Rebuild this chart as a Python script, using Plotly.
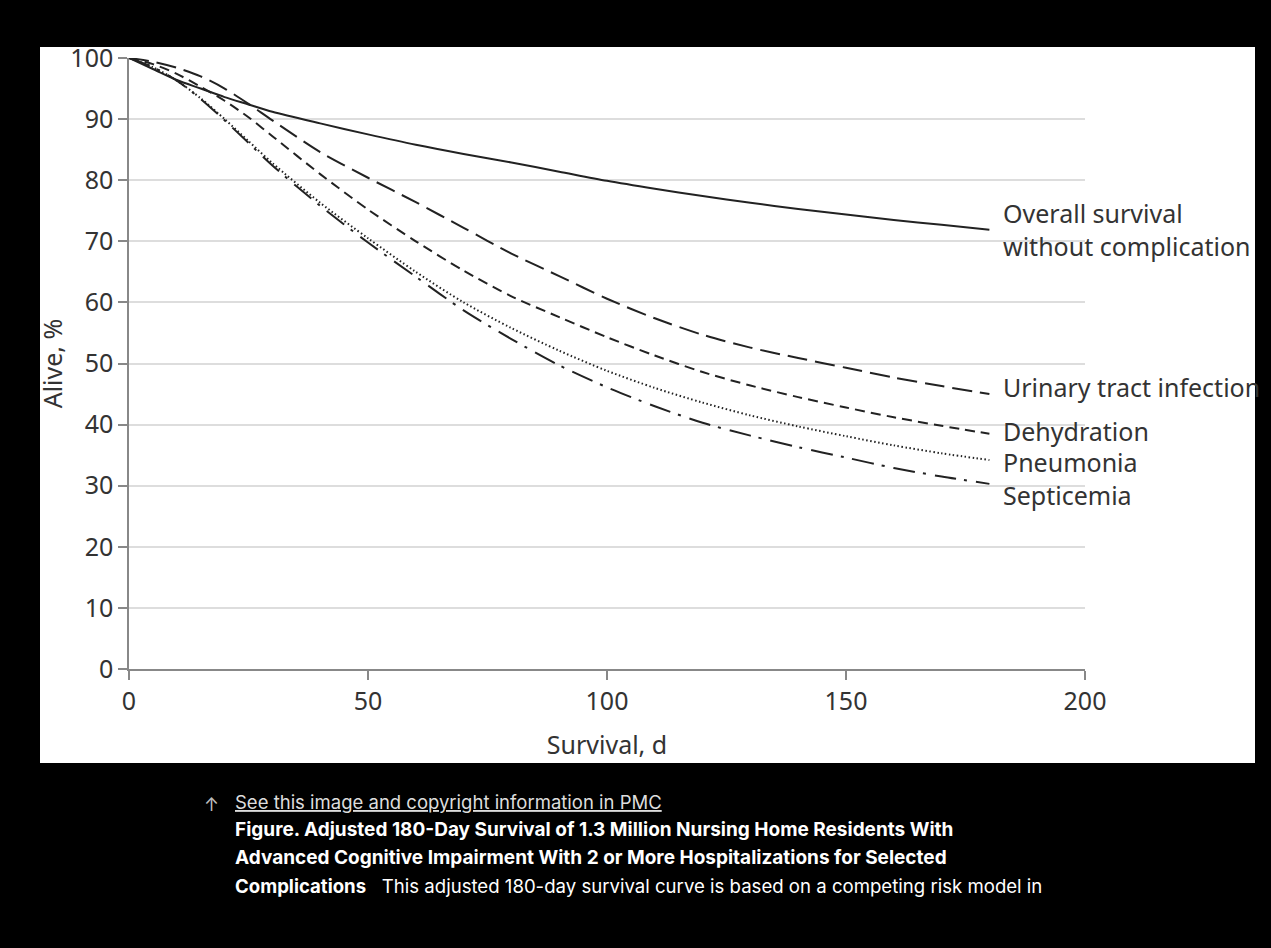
import plotly.graph_objects as go

# ---- data ----
days = [0, 5, 10, 15, 20, 25, 30, 40, 50, 60, 70, 80, 90, 100, 110, 120, 130, 140, 150, 160, 170, 180]

overall = [100, 98.2, 96.4, 95.0, 93.6, 92.4, 91.2, 89.3, 87.5, 85.8, 84.3, 82.9, 81.4, 79.9,
           78.6, 77.4, 76.3, 75.3, 74.4, 73.5, 72.7, 71.9]
uti = [100, 99.4, 98.4, 97.0, 95.0, 92.5, 89.8, 84.6, 80.4, 76.4, 72.2, 68.0, 64.3, 60.6,
       57.4, 54.7, 52.6, 50.9, 49.3, 47.7, 46.3, 45.0]
dehydration = [100, 99.0, 97.4, 95.3, 93.0, 90.3, 87.2, 81.0, 75.2, 70.0, 65.2, 61.0, 57.6, 54.3,
               51.3, 48.6, 46.4, 44.5, 42.8, 41.2, 39.8, 38.5]
pneumonia = [100, 98.5, 96.3, 93.4, 90.0, 86.4, 82.8, 76.3, 70.5, 65.0, 60.0, 55.8, 52.1, 48.8,
             46.0, 43.6, 41.5, 39.7, 38.1, 36.6, 35.3, 34.2]
septicemia = [100, 98.5, 96.3, 93.3, 89.8, 86.1, 82.4, 75.8, 69.8, 64.2, 58.7, 54.0, 49.7, 46.1,
              43.0, 40.3, 38.2, 36.3, 34.6, 32.9, 31.5, 30.3]

series_names = ["Overall survival without complication", "Urinary tract infection",
                "Dehydration", "Pneumonia", "Septicemia"]
series_values = [overall, uti, dehydration, pneumonia, septicemia]
label_texts = ["Overall survival<br>without complication", "Urinary tract infection",
               "Dehydration", "Pneumonia", "Septicemia"]
label_y = [72.0, 46.2, 39.0, 33.8, 28.4]

x_ticks = [0, 50, 100, 150, 200]
y_ticks = [0, 10, 20, 30, 40, 50, 60, 70, 80, 90, 100]

caption_link = "See this image and copyright information in PMC"
caption_lines = [
    "<b>Figure. Adjusted 180-Day Survival of 1.3 Million Nursing Home Residents With</b>",
    "<b>Advanced Cognitive Impairment With 2 or More Hospitalizations for Selected</b>",
    "<b>Complications</b>   This adjusted 180-day survival curve is based on a competing risk model in",
]
caption_sizes = [19, 19, 18.6]

# ---- styles ----
dashes = ["solid", "20px,8px", "10px,6px", "1.5px,2.5px", "22px,8px,3px,9px"]
LINE_COLOR = "#222222"
TEXT_COLOR = "#333333"
FONT = "Noto Sans"
CAP_FONT = "Inter"

W, H = 1271, 948
L, R, T, B = 129, W - 1085, 58, H - 669
pw, ph = W - L - R, H - T - B


def px2x(px):
    return (px - L) / pw


def px2y(py):
    return (H - B - py) / ph


fig = go.Figure()
for name, vals, dash in zip(series_names, series_values, dashes):
    fig.add_trace(go.Scatter(
        x=days, y=vals, mode="lines", name=name,
        line=dict(color=LINE_COLOR, width=2, dash=dash, shape="spline", smoothing=0.8),
        showlegend=False,
    ))

annotations = []
for txt, yv in zip(label_texts, label_y):
    annotations.append(dict(
        x=182.5, y=yv, xref="x", yref="y", text=txt, showarrow=False,
        xanchor="left", yanchor="middle", align="left",
        font=dict(family=FONT, size=25, color=TEXT_COLOR),
    ))

# caption below the chart panel
annotations.append(dict(
    x=px2x(211), y=px2y(804), xref="paper", yref="paper", text="↑", showarrow=False,
    xanchor="center", yanchor="middle", font=dict(family=CAP_FONT, size=18, color="#bbbbbb"),
))
annotations.append(dict(
    x=px2x(233), y=px2y(802), xref="paper", yref="paper", text="<u>" + caption_link + "</u>",
    showarrow=False, xanchor="left", yanchor="middle",
    font=dict(family=CAP_FONT, size=18.5, color="#dddddd"),
))
for i, (line, sz) in enumerate(zip(caption_lines, caption_sizes)):
    annotations.append(dict(
        x=px2x(233), y=px2y(830 + 28 * i), xref="paper", yref="paper", text=line,
        showarrow=False, xanchor="left", yanchor="middle",
        font=dict(family=CAP_FONT, size=sz, color="#ffffff"),
    ))

fig.update_layout(
    width=W, height=H,
    margin=dict(l=L, r=R, t=T, b=B, pad=0),
    paper_bgcolor="#000000",
    plot_bgcolor="#ffffff",
    font=dict(family=FONT, size=25, color=TEXT_COLOR),
    shapes=[dict(
        type="rect", xref="paper", yref="paper",
        x0=px2x(40), x1=px2x(1255), y0=px2y(763), y1=px2y(47),
        fillcolor="#ffffff", line=dict(width=0), layer="below",
    )],
    annotations=annotations,
    xaxis=dict(
        range=[0, 200], tickvals=x_ticks, ticks="outside", ticklen=9, tickwidth=1.5,
        tickcolor="#888888", showline=True, linecolor="#888888", linewidth=1.5,
        showgrid=False, zeroline=False,
        tickfont=dict(family=FONT, size=25, color=TEXT_COLOR),
        title=dict(text="Survival, d", standoff=21, font=dict(family=FONT, size=25, color=TEXT_COLOR)),
    ),
    yaxis=dict(
        range=[0, 100], tickvals=y_ticks, ticks="outside", ticklen=9, tickwidth=1.5,
        tickcolor="#888888", showline=True, linecolor="#888888", linewidth=1.5,
        showgrid=True, gridcolor="#dddddd", gridwidth=2, zeroline=False,
        tickfont=dict(family=FONT, size=25, color=TEXT_COLOR),
        title=dict(text="Alive, %", standoff=1, font=dict(family=FONT, size=25, color=TEXT_COLOR)),
    ),
)

fig.write_html(
    "out.html",
    config={"displayModeBar": False},
    post_script="document.body.style.margin='0';document.body.style.background='#000';",
)
